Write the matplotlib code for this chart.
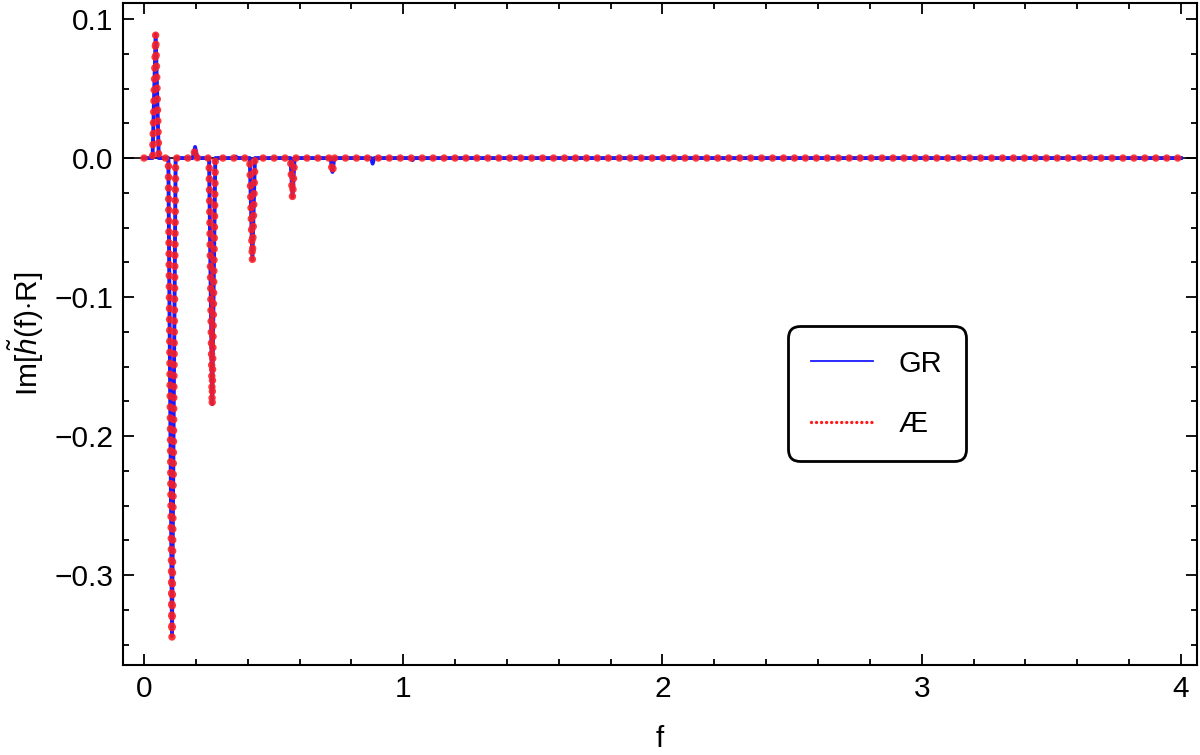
import matplotlib
matplotlib.use("Agg")
from matplotlib import pyplot as plt
from matplotlib.lines import Line2D
from matplotlib.ticker import MultipleLocator
import numpy as np

plt.rcParams["font.family"] = ["Liberation Sans", "DejaVu Sans"]
plt.rcParams["mathtext.fontset"] = "custom"
plt.rcParams["mathtext.rm"] = "Liberation Sans"
plt.rcParams["mathtext.it"] = "Liberation Sans:italic"

f_gr = [0.0, 0.033, 0.045, 0.057, 0.094, 0.108, 0.122, 0.188, 0.197, 0.206,
        0.251, 0.263, 0.275, 0.35, 0.355, 0.36, 0.408, 0.418, 0.428,
        0.565, 0.573, 0.581, 0.72, 0.727, 0.734, 0.876, 0.882, 0.888,
        1.03, 1.036, 1.042, 4.0]
h_gr = [0.0, 0.0, 0.089, 0.0, 0.0, -0.344, 0.0, 0.0, 0.008, 0.0,
        0.0, -0.177, 0.0, 0.0, 0.001, 0.0, 0.0, -0.073, 0.0,
        0.0, -0.028, 0.0, 0.0, -0.010, 0.0, 0.0, -0.004, 0.0,
        0.0, -0.0015, 0.0, 0.0]

f_ae = [0.0, 0.033, 0.045, 0.057, 0.094, 0.108, 0.122, 0.188, 0.197, 0.206,
        0.251, 0.263, 0.275, 0.408, 0.418, 0.428,
        0.565, 0.573, 0.581, 0.72, 0.727, 0.734, 4.0]
h_ae = [0.0, 0.0, 0.089, 0.0, 0.0, -0.345, 0.0, 0.0, 0.006, 0.0,
        0.0, -0.178, 0.0, 0.0, -0.074, 0.0,
        0.0, -0.029, 0.0, 0.0, -0.011, 0.0, 0.0]

fig = plt.figure(figsize=(12, 7.55), dpi=100)
ax = fig.add_axes([0.1025, 0.119, 0.8950, 0.877])

ax.axhline(0, color="black", lw=1.2, zorder=1)
ax.plot(f_gr, h_gr, color="#1a1aff", lw=2.8, zorder=2)
ax.plot(f_ae, h_ae, color="#ff2020", lw=5.4, linestyle=(0, (0.01, 1.45)),
        dash_capstyle="round", alpha=0.88, zorder=3)

ax.set_xlim(-0.081, 4.062)
ax.set_ylim(-0.3647, 0.1115)
ax.xaxis.set_major_locator(MultipleLocator(1))
ax.xaxis.set_minor_locator(MultipleLocator(0.2))
ax.yaxis.set_major_locator(MultipleLocator(0.1))
ax.yaxis.set_minor_locator(MultipleLocator(0.025))
ax.set_yticks([-0.3, -0.2, -0.1, 0.0, 0.1])
ax.set_yticklabels(["\u22120.3", "\u22120.2", "\u22120.1", "0.0", "0.1"])
ax.tick_params(which="both", direction="in", top=True, right=True,
               labelsize=21.5, width=1.3, pad=7)
ax.tick_params(which="major", length=8)
ax.tick_params(which="minor", length=4.5)
for s in ax.spines.values():
    s.set_linewidth(1.5)

ax.set_xlabel("f", fontsize=21.5, labelpad=16)
ax.set_ylabel(r"$\mathrm{Im}[\tilde{h}(\mathrm{f}){\cdot}\mathrm{R}]$", fontsize=21.5, labelpad=6)

handles = [Line2D([], [], color="#1a1aff", lw=1.3),
           Line2D([], [], color="#ff1a1a", lw=2.4, linestyle=(0, (0.01, 1.5)),
                  dash_capstyle="round")]
leg = ax.legend(handles, ["GR", "\u00c6"], loc="center", bbox_to_anchor=(0.702, 0.41),
                fontsize=21, frameon=True, fancybox=True, handlelength=2.1,
                borderpad=0.8, labelspacing=1.1, handletextpad=0.9, borderaxespad=0)
frame = leg.get_frame()
frame.set_edgecolor("black")
frame.set_linewidth(2.0)
frame.set_alpha(1)
frame.set_boxstyle("round,pad=0,rounding_size=0.4")

fig.savefig("out.png", dpi=100)
